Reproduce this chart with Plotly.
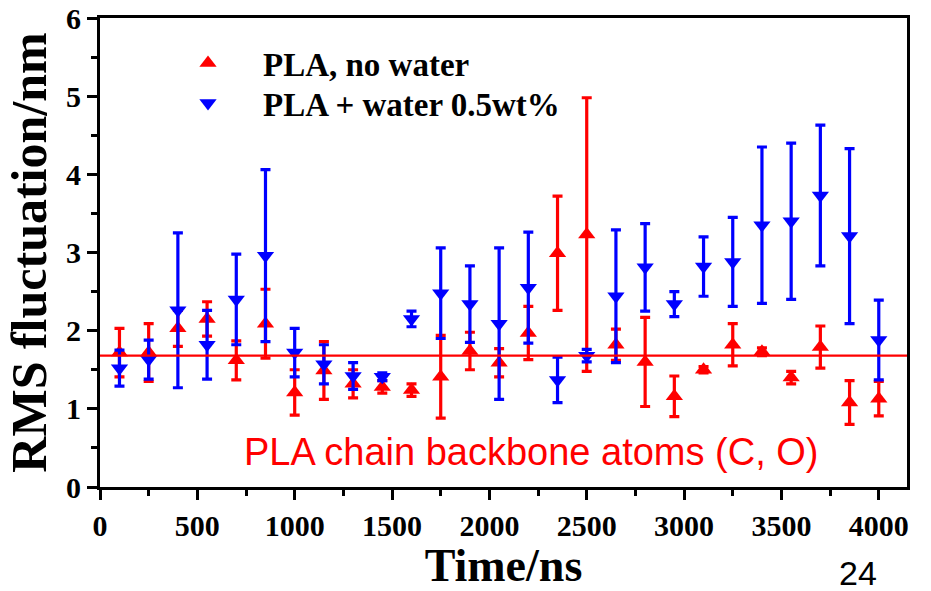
import plotly.graph_objects as go

time_ns = [100, 250, 400, 550, 700, 850, 1000, 1150, 1300, 1450, 1600, 1750, 1900, 2050,
           2200, 2350, 2500, 2650, 2800, 2950, 3100, 3250, 3400, 3550, 3700, 3850, 4000]

no_water = [1.72, 1.72, 2.03, 2.15, 1.62, 2.09, 1.21, 1.49, 1.32, 1.28, 1.24, 1.41, 1.74, 1.59,
            1.97, 2.99, 3.23, 1.82, 1.60, 1.16, 1.50, 1.82, 1.73, 1.40, 1.79, 1.08, 1.13]
no_water_err = [0.31, 0.37, 0.23, 0.22, 0.25, 0.44, 0.29, 0.37, 0.18, 0.08, 0.08, 0.53, 0.24, 0.18,
                0.34, 0.73, 1.75, 0.20, 0.57, 0.26, 0.04, 0.27, 0.05, 0.08, 0.27, 0.28, 0.22]

water = [1.52, 1.63, 2.26, 1.82, 2.40, 2.96, 1.72, 1.57, 1.42, 1.41, 2.15, 2.48, 2.34, 2.09,
         2.55, 1.37, 1.68, 2.44, 2.81, 2.34, 2.82, 2.88, 3.35, 3.40, 3.73, 3.21, 1.88]
water_err = [0.23, 0.25, 0.99, 0.44, 0.58, 1.10, 0.31, 0.25, 0.17, 0.05, 0.10, 0.58, 0.49, 0.97,
             0.71, 0.29, 0.08, 0.85, 0.56, 0.16, 0.38, 0.57, 1.00, 1.00, 0.90, 1.12, 0.51]

reference_level = 1.68

x_ticks = [0, 500, 1000, 1500, 2000, 2500, 3000, 3500, 4000]
y_ticks = [0, 1, 2, 3, 4, 5, 6]

RED = "#ff0000"
BLUE = "#0000ff"
SERIF = "Liberation Serif, Times New Roman, serif"

# plot-area geometry in pixels (for placing paper-referenced items)
L, R, T, B = 100, 907, 18, 487
W, H = R - L, B - T


def px_x(px):
    return (px - L) / W


def px_y(py):
    return (B - py) / H


fig = go.Figure()
fig.add_trace(go.Scatter(
    x=time_ns, y=no_water, mode="markers", name="PLA, no water", legend="legend",
    marker=dict(symbol="triangle-up", size=15, color=RED),
    error_y=dict(type="data", array=no_water_err, visible=True, color=RED, thickness=3.2, width=5),
))
fig.add_trace(go.Scatter(
    x=time_ns, y=water, mode="markers", name="PLA + water 0.5wt%", legend="legend2",
    marker=dict(symbol="triangle-down", size=15, color=BLUE),
    error_y=dict(type="data", array=water_err, visible=True, color=BLUE, thickness=3.2, width=5),
))

fig.add_shape(type="line", xref="paper", yref="y", x0=0, x1=1,
              y0=reference_level, y1=reference_level,
              line=dict(color=RED, width=2.2), layer="above")

fig.add_annotation(text="PLA chain backbone atoms (C, O)", xref="paper", yref="paper",
                   x=px_x(531), y=px_y(452), showarrow=False,
                   font=dict(family="Liberation Sans, Arial, sans-serif", size=38, color=RED),
                   xanchor="center", yanchor="middle")
fig.add_annotation(text="24", xref="paper", yref="paper",
                   x=px_x(858), y=px_y(573), showarrow=False,
                   font=dict(family="Liberation Sans, Arial, sans-serif", size=34, color="black"),
                   xanchor="center", yanchor="middle")

axis_common = dict(
    showline=True, linecolor="black", linewidth=3, mirror=True,
    ticks="outside", tickcolor="black", tickwidth=3, ticklen=10,
    showgrid=False, zeroline=False, automargin=False,
    tickfont=dict(family=SERIF, size=30, color="black", weight="bold"),
)

legend_common = dict(xanchor="left", yanchor="middle", bgcolor="rgba(0,0,0,0)", borderwidth=0,
                     font=dict(family=SERIF, size=33, color="black", weight="bold"),
                     itemwidth=100)

fig.update_layout(
    width=931, height=591,
    margin=dict(l=L, r=931 - R, t=T, b=591 - B),
    paper_bgcolor="white", plot_bgcolor="white",
    xaxis=dict(range=[0, 4145], tickvals=x_ticks,
               minor=dict(ticks="outside", dtick=250, tick0=0, ticklen=6, tickwidth=3, tickcolor="black"),
               title=dict(text="Time/ns", font=dict(family=SERIF, size=46, color="black", weight="bold"),
                          standoff=8),
               **axis_common),
    yaxis=dict(range=[0, 6], tickvals=y_ticks,
               minor=dict(ticks="outside", dtick=0.5, tick0=0, ticklen=6, tickwidth=3, tickcolor="black"),
               title=dict(text="RMS fluctuation/nm", font=dict(family=SERIF, size=50, color="black", weight="bold"),
                          standoff=4),
               **axis_common),
    legend=dict(x=px_x(153), y=px_y(63), **legend_common),
    legend2=dict(x=px_x(153), y=px_y(103), **legend_common),
    showlegend=True,
)

fig.write_html("out.html")
